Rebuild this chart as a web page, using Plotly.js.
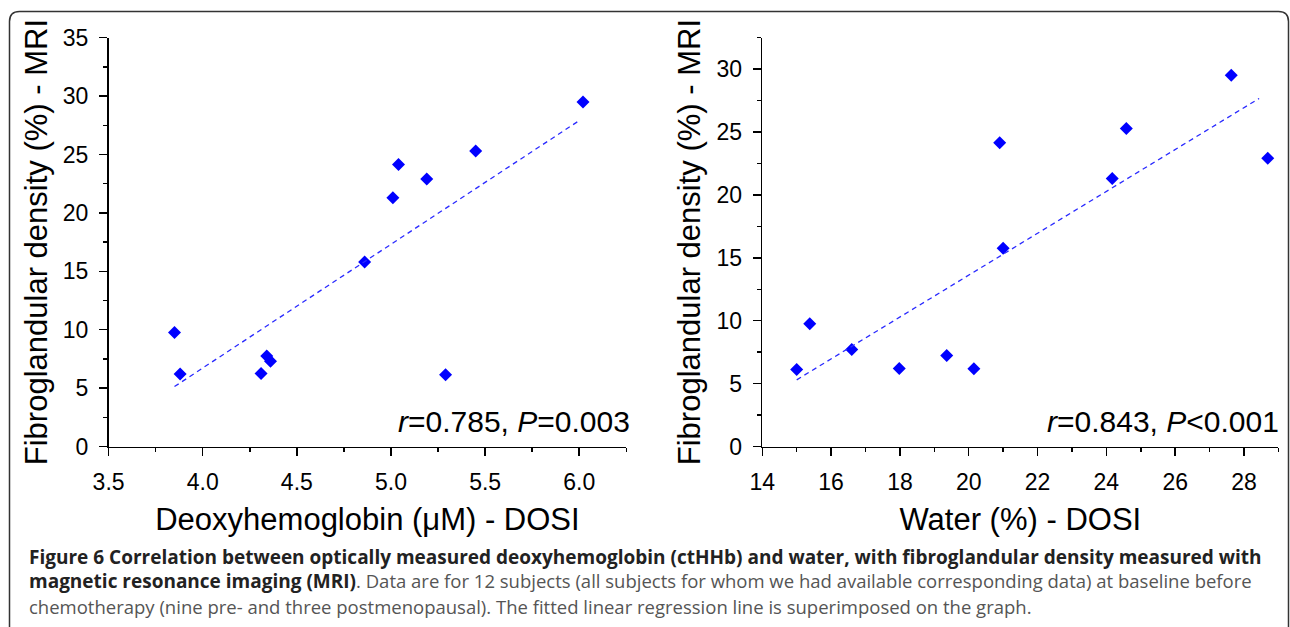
<!DOCTYPE html>
<html>
<head>
<meta charset="utf-8">
<script src="https://cdn.plot.ly/plotly-3.0.1.min.js"></script>
<style>
  html, body { margin: 0; padding: 0; background: #ffffff; }
  #chart { width: 1290px; height: 627px; }
</style>
</head>
<body>
<div id="chart"></div>
<script>
// ---- Data ----
const deoxyHb   = [3.85, 3.88, 4.31, 4.34, 4.36, 4.86, 5.01, 5.04, 5.19, 5.29, 5.45, 6.02];
const fgdDeoxy  = [9.75, 6.20, 6.25, 7.75, 7.30, 15.80, 21.30, 24.15, 22.90, 6.15, 25.30, 29.50];

const water     = [15.00, 15.38, 16.60, 17.98, 19.36, 20.15, 20.90, 21.00, 24.17, 24.58, 27.63, 28.69];
const fgdWater  = [6.13, 9.76, 7.72, 6.21, 7.24, 6.18, 24.14, 15.76, 21.30, 25.28, 29.52, 22.92];

// regression line end points as drawn
const fitDeoxyX = [3.85, 5.99];
const fitDeoxyY = [5.13, 27.8];
const fitWaterX = [15.0, 28.44];
const fitWaterY = [5.30, 27.67];

const xTitleLeft  = 'Deoxyhemoglobin (\u03BCM) - DOSI';
const xTitleRight = 'Water (%) - DOSI';
const yTitle      = 'Fibroglandular density (%) - MRI';
const statLeft    = '<i>r</i>=0.785, <i>P</i>=0.003';
const statRight   = '<i>r</i>=0.843, <i>P</i>&lt;0.001';

const captionLines = [
  '<b>Figure 6 Correlation between optically measured deoxyhemoglobin (ctHHb) and water, with fibroglandular density measured with</b>',
  '<b>magnetic resonance imaging (MRI)</b><span style="color:#555555;font-size:18.5px">. Data are for 12 subjects (all subjects for whom we had available corresponding data) at baseline before</span>',
  '<span style="color:#555555;font-size:18.5px">chemotherapy (nine pre- and three postmenopausal). The fitted linear regression line is superimposed on the graph.</span>'
];

// ---- Layout helpers ----
const W = 1290, H = 627;
const px = v => v / W;
const py = v => 1 - v / H;

const FONT = 'Liberation Sans, Arial, Helvetica, sans-serif';
const CAPFONT = 'Open Sans, Noto Sans, sans-serif';

const markerStyle = { symbol: 'diamond', size: 10, color: '#0000ff', line: { width: 0 } };
const fitStyle = { color: '#2a2aff', width: 1.3, dash: '5px,4px' };

const traces = [
  { x: deoxyHb, y: fgdDeoxy, type: 'scatter', mode: 'markers', marker: markerStyle, xaxis: 'x', yaxis: 'y', hoverinfo: 'x+y' },
  { x: fitDeoxyX, y: fitDeoxyY, type: 'scatter', mode: 'lines', line: fitStyle, xaxis: 'x', yaxis: 'y', hoverinfo: 'skip' },
  { x: water, y: fgdWater, type: 'scatter', mode: 'markers', marker: markerStyle, xaxis: 'x2', yaxis: 'y2', hoverinfo: 'x+y' },
  { x: fitWaterX, y: fitWaterY, type: 'scatter', mode: 'lines', line: fitStyle, xaxis: 'x2', yaxis: 'y2', hoverinfo: 'skip' }
];

function axisBase(extra) {
  return Object.assign({
    showline: true, linecolor: '#000', linewidth: 1.6, mirror: false,
    showgrid: false, zeroline: false,
    ticks: 'outside', ticklen: 8, tickwidth: 1.5, tickcolor: '#000',
    ticklabelstandoff: 6,
    tickfont: { family: FONT, size: 23, color: '#000' },
    automargin: false, fixedrange: true
  }, extra);
}

const yDomain = [py(446.5), py(37.7)];

const layout = {
  width: W, height: H,
  margin: { l: 0, r: 0, t: 0, b: 0 },
  paper_bgcolor: '#ffffff', plot_bgcolor: 'rgba(0,0,0,0)',
  showlegend: false,
  font: { family: FONT, color: '#000' },
  xaxis: axisBase({
    domain: [px(108.6), px(626.3)], range: [3.5, 6.25], anchor: 'y',
    tick0: 3.5, dtick: 0.5, tickformat: '.1f',
    minor: { dtick: 0.25, ticks: 'outside', ticklen: 4, tickwidth: 1.5, tickcolor: '#000', showgrid: false },
    title: { text: xTitleLeft, font: { family: FONT, size: 31, color: '#000' }, standoff: 14 }
  }),
  yaxis: axisBase({
    domain: yDomain, range: [0, 35], anchor: 'x',
    tick0: 0, dtick: 5,
    minor: { dtick: 2.5, ticks: 'outside', ticklen: 4, tickwidth: 1.5, tickcolor: '#000', showgrid: false },
    title: { text: yTitle, font: { family: FONT, size: 31, color: '#000' }, standoff: 6 }
  }),
  xaxis2: axisBase({
    domain: [px(762.3), px(1278.4)], range: [14, 29], anchor: 'y2',
    tick0: 14, dtick: 2,
    minor: { dtick: 1, ticks: 'outside', ticklen: 4, tickwidth: 1.5, tickcolor: '#000', showgrid: false },
    title: { text: xTitleRight, font: { family: FONT, size: 31, color: '#000' }, standoff: 14 }
  }),
  yaxis2: axisBase({
    domain: yDomain, range: [0, 32.5], anchor: 'x2',
    tick0: 0, dtick: 5,
    minor: { dtick: 2.5, ticks: 'outside', ticklen: 4, tickwidth: 1.5, tickcolor: '#000', showgrid: false },
    title: { text: yTitle, font: { family: FONT, size: 31, color: '#000' }, standoff: 6 }
  }),
  annotations: [
    { xref: 'paper', yref: 'paper', x: px(632), y: py(421), xanchor: 'right', yanchor: 'middle',
      text: statLeft, showarrow: false, font: { family: FONT, size: 30, color: '#000' } },
    { xref: 'paper', yref: 'paper', x: px(1281), y: py(421), xanchor: 'right', yanchor: 'middle',
      text: statRight, showarrow: false, font: { family: FONT, size: 30, color: '#000' } },
    { xref: 'paper', yref: 'paper', x: px(27), y: py(557), xanchor: 'left', yanchor: 'middle',
      text: captionLines[0], showarrow: false, align: 'left', font: { family: CAPFONT, size: 19, color: '#222222' } },
    { xref: 'paper', yref: 'paper', x: px(27), y: py(581), xanchor: 'left', yanchor: 'middle',
      text: captionLines[1], showarrow: false, align: 'left', font: { family: CAPFONT, size: 19, color: '#222222' } },
    { xref: 'paper', yref: 'paper', x: px(27), y: py(606), xanchor: 'left', yanchor: 'middle',
      text: captionLines[2], showarrow: false, align: 'left', font: { family: CAPFONT, size: 18.5, color: '#555555' } }
  ],
  shapes: [
    { type: 'path', xref: 'paper', yref: 'paper', layer: 'below',
      path: 'M ' + px(9.5) + ',' + py(640) + ' L ' + px(9.5) + ',' + py(21.5) +
            ' Q ' + px(9.5) + ',' + py(11.5) + ' ' + px(19.5) + ',' + py(11.5) +
            ' L ' + px(1278.5) + ',' + py(11.5) +
            ' Q ' + px(1288.5) + ',' + py(11.5) + ' ' + px(1288.5) + ',' + py(21.5) +
            ' L ' + px(1288.5) + ',' + py(640),
      line: { color: '#333333', width: 1.5 } }
  ]
};

Plotly.newPlot('chart', traces, layout, { displayModeBar: false, staticPlot: true });
</script>
</body>
</html>
